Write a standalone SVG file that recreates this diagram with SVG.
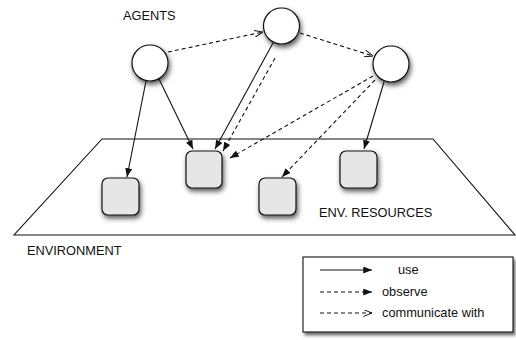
<svg xmlns="http://www.w3.org/2000/svg" width="516" height="340" viewBox="0 0 516 340">
<style>
text{font-family:"Liberation Sans",Arial,sans-serif;font-size:12.8px;fill:#111}
.agent{fill:#fff;stroke:#111;stroke-width:1.2;filter:url(#sh)}
.res{fill:#e6e6e6;stroke:#111;stroke-width:1.2;filter:url(#sh)}
.use{stroke:#111;stroke-width:1.1;fill:none;marker-end:url(#filled)}
.obs{stroke:#111;stroke-width:1.1;fill:none;stroke-dasharray:4 3;marker-end:url(#filled)}
.com{stroke:#111;stroke-width:1.1;fill:none;stroke-dasharray:4 3;marker-end:url(#open)}
</style>
<defs>
<filter id="sh" x="-50%" y="-50%" width="200%" height="200%">
<feDropShadow dx="1.5" dy="3" stdDeviation="2.8" flood-color="#000" flood-opacity="0.65"/>
</filter>
<filter id="lsh" x="-10%" y="-10%" width="120%" height="130%">
<feDropShadow dx="2" dy="3" stdDeviation="1.5" flood-color="#000" flood-opacity="0.55"/>
</filter>
<marker id="filled" viewBox="0 0 10 8" refX="10" refY="4" markerWidth="9" markerHeight="7" markerUnits="userSpaceOnUse" orient="auto">
<path d="M0,0 L10,4 L0,8 Z" fill="#111"/>
</marker>
<marker id="open" viewBox="0 0 10 8" refX="10" refY="4" markerWidth="9" markerHeight="7" markerUnits="userSpaceOnUse" orient="auto">
<path d="M0,0 L10,4 L0,8" fill="none" stroke="#111" stroke-width="1.1"/>
</marker>
</defs>
<rect width="516" height="340" fill="#fff"/>
<g id="environment">
<polygon points="102,139 433,139 515,235 14,235" fill="#fff" stroke="#111" stroke-width="1.1"/>
<text x="27" y="255">ENVIRONMENT</text>
</g>
<text x="123" y="20">AGENTS</text>
<text x="319" y="217">ENV. RESOURCES</text>
<g id="agent1"><circle class="agent" cx="150" cy="63" r="18"/></g>
<g id="agent2"><circle class="agent" cx="281.5" cy="26" r="18"/></g>
<g id="agent3"><circle class="agent" cx="391" cy="64" r="18"/></g>
<g id="res1"><rect class="res" x="102" y="178" width="37" height="37" rx="6"/></g>
<g id="res2"><rect class="res" x="186" y="151" width="36" height="37" rx="6"/></g>
<g id="res3"><rect class="res" x="259" y="178" width="37" height="37" rx="6"/></g>
<g id="res4"><rect class="res" x="340" y="151" width="37" height="37" rx="6"/></g>
<g id="connectors">
<line class="use" x1="146" y1="81" x2="127" y2="177"/>
<line class="use" x1="159" y1="79" x2="193" y2="149"/>
<line class="use" x1="273" y1="43" x2="215" y2="149"/>
<line class="obs" x1="275" y1="58" x2="223" y2="151"/>
<line class="obs" x1="373" y1="76" x2="230" y2="158"/>
<line class="obs" x1="375" y1="80" x2="282" y2="177"/>
<line class="use" x1="384" y1="82" x2="364" y2="149"/>
<line class="com" x1="168" y1="52" x2="263" y2="32"/>
<line class="com" x1="300" y1="33" x2="373" y2="56"/>
</g>
<g id="legend">
<rect x="303" y="257" width="210" height="75" fill="#fff" stroke="#111" stroke-width="1.1" filter="url(#lsh)"/>
<line class="use" x1="320" y1="270" x2="372" y2="270"/>
<text x="398" y="274">use</text>
<line class="obs" x1="320" y1="292" x2="372" y2="292"/>
<text x="382" y="296">observe</text>
<line class="com" x1="320" y1="313" x2="372" y2="313"/>
<text x="382" y="317">communicate with</text>
</g>
</svg>
